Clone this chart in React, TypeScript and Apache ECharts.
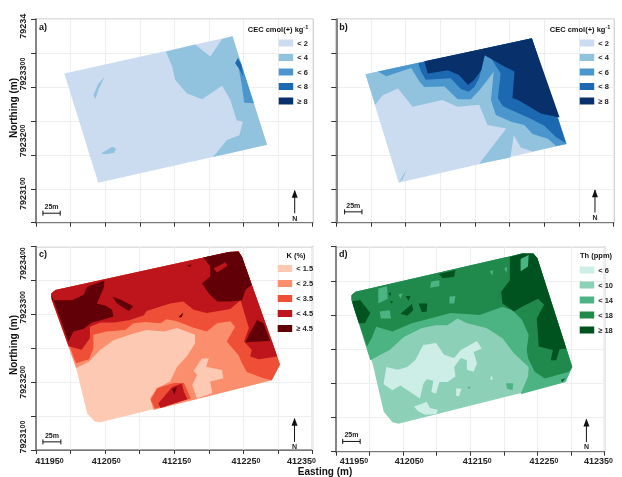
import React, { useEffect, useRef } from "react";
import * as echarts from "echarts";

// All rings are metres east of 411950 and metres north of 7923100.
const EAST0 = 411950;
const NORTH0 = 7923100;
type Ring = number[][];

const eastTicks = [411950, 412050, 412150, 412250, 412350];
const cecLevels = ["< 2", "< 4", "< 6", "< 8", "≥ 8"];
const kLevels = ["< 1.5", "< 2.5", "< 3.5", "< 4.5", "≥ 4.5"];
const thLevels = ["< 6", "< 10", "< 14", "< 18", "≥ 18"];
const blues = ["#cbdcf0", "#91c2de", "#4b97cd", "#1c68b1", "#08306b"];
const reds = ["#fdc9b2", "#fb8f6d", "#ef4f36", "#bd151b", "#620008"];
const greens = ["#cdeee6", "#8dd0b8", "#4cb482", "#1f8a4b", "#00521f"];

// Panel a, CEC
const aBase: Ring = [[41,220],[284,275],[334,115],[90,59]];
const aMid: Ring = [[188,252],[230,263],[252,245],[269,271],[284,275],[334,115],[256,97],[276,122],[294,129],[299,149],[290,151],[281,181],[269,202],[240,182],[218,191],[201,211],[197,230]];
const aSliver: Ring = [[99,215],[91,198],[86,183],[83,188],[90,205]];
const aBlob: Ring = [[94,102],[110,112],[116,109],[113,103],[101,101]];
const aHigh: Ring = [[292,243],[297,233],[315,176],[301,177],[297,206],[293,228],[288,235]];
const aHigher: Ring = [[292,243],[297,233],[300,215],[293,228],[288,235]];

// Panel b, CEC
const bBase: Ring = [[42,219],[282,272],[332,116],[90,59]];
const bL4: Ring = [[42,219],[282,272],[332,116],[283,105],[266,111],[256,129],[251,96],[206,87],[245,139],[218,144],[206,174],[175,171],[153,181],[110,171],[89,198],[67,188],[56,174]];
const bCorner: Ring = [[90,59],[102,80],[96,65]];
const bL6: Ring = [[60,223],[282,272],[332,116],[317,113],[305,124],[283,131],[271,144],[252,149],[230,159],[223,181],[227,223],[216,208],[206,195],[194,182],[175,182],[156,201],[127,200],[120,208],[108,228],[72,216]];
const bL8: Ring = [[118,235],[282,272],[331,117],[317,126],[300,143],[281,153],[257,164],[240,172],[233,184],[237,220],[223,243],[214,247],[206,213],[199,200],[191,193],[180,197],[165,213],[129,211],[122,223]];
const bTop: Ring = [[127,238],[282,272],[322,155],[295,161],[262,181],[254,184],[257,223],[243,230],[214,247],[209,225],[199,211],[190,203],[177,218],[161,225],[132,220]];

// Panel c, K
const cBase: Ring = [[22,231],[28,236],[279,292],[293,293],[298,285],[353,126],[341,103],[93,41],[85,42],[74,54],[58,121],[23,221]];
const cL25: Ring = [[58,121],[23,221],[22,231],[28,236],[279,292],[293,293],[298,285],[353,126],[341,103],[170,59],[165,76],[175,91],[194,101],[204,123],[218,138],[230,157],[230,170],[204,180],[185,175],[160,177],[141,172],[112,162],[93,148],[76,130]];
const cPale: Ring = [[240,135],[250,135],[246,123],[269,118],[271,106],[252,101],[255,84],[233,76],[226,96],[233,111],[228,117]];
const cL35: Ring = [[58,128],[23,221],[22,231],[28,236],[279,292],[293,293],[298,285],[353,126],[341,103],[329,106],[305,115],[298,128],[293,140],[276,160],[288,182],[281,190],[262,187],[247,175],[226,181],[204,190],[189,193],[180,187],[158,189],[141,187],[129,177],[102,175],[83,170],[83,150],[77,134]];
const cBlob35: Ring = [[166,74],[175,91],[199,99],[214,99],[224,76],[172,61]];
const cL45: Ring = [[47,153],[23,221],[22,231],[28,236],[279,292],[293,293],[298,285],[344,153],[349,138],[322,134],[310,138],[312,148],[301,160],[308,180],[300,207],[296,221],[281,208],[247,202],[228,207],[213,219],[194,216],[160,205],[156,199],[136,192],[114,188],[93,188],[78,182],[78,165],[66,148]];
const cBlob45: Ring = [[177,69],[197,93],[211,98],[214,86],[219,75],[180,62]];
const cDarkLeft: Ring = [[22,230],[23,221],[52,221],[69,229],[74,241],[99,250],[98,239],[88,216],[101,213],[110,207],[112,197],[95,192],[81,188],[69,179],[54,175],[47,160]];
const cStreak: Ring = [[111,226],[124,221],[141,212],[134,205],[117,216]];
const cDarkTop: Ring = [[242,284],[279,292],[293,293],[298,285],[312,244],[303,236],[298,221],[281,219],[262,219],[250,231],[240,246],[252,256],[252,271]];
const cRedIsle: Ring = [[257,268],[274,277],[277,272],[262,262]];
const cDarkRight: Ring = [[308,170],[320,192],[329,187],[339,161],[303,159]];
const cDot: Ring = [[218,272],[225,274],[223,270]];
const cFleck: Ring = [[206,196],[213,203],[211,196]];
const cSpot: Ring = [[197,90],[204,93],[200,82]];

// Panel d, Th
const dBase: Ring = [[23,229],[29,234],[277,290],[294,290],[300,283],[352,124],[342,102],[93,41],[84,43],[71,59],[55,127],[24,220]];
const dL14: Ring = [[51,134],[23,222],[23,229],[29,234],[277,290],[294,290],[300,283],[352,124],[342,102],[275,84],[286,110],[287,124],[265,144],[248,166],[224,181],[195,188],[181,195],[166,185],[149,185],[128,181],[101,168],[80,149]];
const dL18: Ring = [[46,154],[23,222],[23,229],[29,234],[277,290],[294,290],[300,283],[352,124],[347,117],[311,107],[296,117],[286,137],[284,149],[287,171],[277,193],[263,207],[248,212],[214,200],[171,203],[133,193],[113,188],[84,176],[60,183],[53,166]];
const dRight: Ring = [[259,285],[277,290],[294,290],[300,283],[343,151],[333,150],[328,134],[320,134],[323,149],[302,154],[299,195],[310,215],[301,224],[277,212],[265,205],[248,217],[246,234],[259,251]];
const dLeft: Ring = [[24,220],[36,222],[51,203],[43,188],[34,188],[26,212]];
const dTop: Ring = [[153,260],[178,266],[176,256],[159,254]];
const dSpot1: Ring = [[123,217],[136,217],[135,205],[128,204]];
const dSpot2: Ring = [[96,202],[113,216],[115,207],[106,199]];
const dSpot3: Ring = [[104,228],[111,228],[108,221]];
const dSpot4: Ring = [[78,232],[82,233],[81,228]];
const dSpot5: Ring = [[80,220],[85,220],[83,217]];
const dSpot6: Ring = [[335,105],[342,108],[337,102]];
const dIsle1: Ring = [[63,239],[76,242],[77,224],[63,217]];
const dIsle2: Ring = [[142,249],[154,251],[154,242],[140,240]];
const dIsle3: Ring = [[169,227],[178,228],[176,217],[169,217]];
const dIsle4: Ring = [[65,205],[80,207],[82,195],[67,195]];
const dIsle5: Ring = [[275,282],[287,288],[286,271],[275,264]];
const dIsle6: Ring = [[251,268],[255,271],[254,261]];
const dIsle7: Ring = [[229,264],[234,266],[233,258]];
const dIsle8: Ring = [[93,230],[99,232],[96,224]];
const dIsle9: Ring = [[253,100],[264,100],[263,90],[255,92]];
const dIsle10: Ring = [[195,95],[201,95],[198,92]];
const dPale: Ring = [[71,100],[75,124],[92,120],[106,124],[118,134],[130,156],[149,159],[161,142],[176,137],[186,149],[210,162],[217,151],[205,146],[210,129],[205,117],[195,120],[195,134],[186,137],[176,124],[178,110],[166,102],[154,102],[149,85],[142,87],[145,104],[135,106],[130,99],[125,78],[111,87],[96,97],[84,90],[72,98]];
const dPaleLow: Ring = [[116,66],[128,70],[135,73],[140,64],[152,61],[149,55],[133,54],[123,59]];
const dPaleDot1: Ring = [[231,112],[234,106],[230,105]];
const dPaleDot2: Ring = [[179,93],[187,92],[183,81],[179,82]];

const aLayers: [number, Ring][] = [[0,aBase],[1,aMid],[1,aSliver],[1,aBlob],[2,aHigh],[3,aHigher]];
const bLayers: [number, Ring][] = [[0,bBase],[1,bL4],[1,bCorner],[2,bL6],[3,bL8],[4,bTop]];
const cLayers: [number, Ring][] = [[0,cBase],[1,cL25],[0,cPale],[2,cL35],[2,cBlob35],[3,cL45],[3,cBlob45],[4,cDarkLeft],[4,cStreak],[4,cDarkTop],[3,cRedIsle],[4,cDarkRight],[4,cDot],[4,cFleck],[4,cSpot]];
const dLayers: [number, Ring][] = [[1,dBase],[2,dL14],[3,dL18],[2,dIsle1],[2,dIsle2],[2,dIsle3],[2,dIsle4],[2,dIsle6],[2,dIsle7],[2,dIsle8],[4,dRight],[4,dLeft],[4,dTop],[4,dSpot1],[4,dSpot2],[4,dSpot3],[4,dSpot4],[4,dSpot5],[4,dSpot6],[2,dIsle5],[2,dIsle9],[2,dIsle10],[0,dPale],[0,dPaleLow],[0,dPaleDot1],[0,dPaleDot2]];

// Metres: scale bar [start, end, height, label height], north arrow [east, base, tip, letter]
const aScale = [10, 35, 14, 24];
const bScale = [12, 37, 16, 25];
const cScale = [10, 36, 12, 22];
const dScale = [10, 36, 15, 25];
const aArrow = [374, 14, 47, 6];
const bArrow = [373, 15, 48, 8];
const cArrow = [374, 12, 46, 5];
const dArrow = [373, 14, 47, 7];

// Hand-placed tick labels of the source: shift in px along the label, per tick
const aShift: Record<number, number> = { 7923100: 29, 7923200: 14, 7923300: 13, 7923400: -7 };
const cShift: Record<number, number> = { 7923100: 13, 7923200: 0, 7923300: 7, 7923400: -17 };
const cEastShift: Record<number, number> = { 411950: 13.5, 412050: 1, 412150: 2.5, 412250: 2.5, 412350: -11 };
const dEastShift: Record<number, number> = { 411950: 18, 412050: 6, 412150: 7, 412250: 6.5, 412350: -6 };

const panels = [
  { key: "a)", grid: { left: 36, top: 19.3, width: 276.7, height: 203.4 }, layers: aLayers, levels: cecLevels, colors: blues, scale: aScale, arrow: aArrow, xShift: null, xMargin: 0, shift: aShift, legendTitle: "CEC cmol(+) kg{s|-1}", titleX: 278, titleY: 29, legendX: 278.7, legendY: 39, gap: 6.5 },
  { key: "b)", grid: { left: 336.3, top: 19.3, width: 277.4, height: 203.4 }, layers: bLayers, levels: cecLevels, colors: blues, scale: bScale, arrow: bArrow, xShift: null, xMargin: 0, shift: null, legendTitle: "CEC cmol(+) kg{s|-1}", titleX: 580, titleY: 29, legendX: 579.7, legendY: 39, gap: 6.5 },
  { key: "c)", grid: { left: 36, top: 246.7, width: 276.5, height: 203.3 }, layers: cLayers, levels: kLevels, colors: reds, scale: cScale, arrow: cArrow, xShift: cEastShift, xMargin: 6, shift: cShift, legendTitle: "K (%)", titleX: 296, titleY: 255, legendX: 277.7, legendY: 264.5, gap: 7 },
  { key: "d)", grid: { left: 336, top: 246.7, width: 276.7, height: 205 }, layers: dLayers, levels: thLevels, colors: greens, scale: dScale, arrow: dArrow, xShift: dEastShift, xMargin: 4.5, shift: null, legendTitle: "Th (ppm)", titleX: 596, titleY: 255, legendX: 579.7, legendY: 266, gap: 7 },
];

const FONT = "Liberation Sans";
const INK = "#222";

const gapName = (s: number) => `g${Math.round(Math.abs(s) * 2)}`;
const gapStyles = (shifts: Record<number, number>) =>
  Object.fromEntries(Object.values(shifts).map((s) => [gapName(s), { width: Math.round(Math.abs(s) * 2), fontSize: 7 }]));
const withGap = (s: number, body: string) => (s >= 0 ? `{${gapName(s)}|}${body}` : `${body}{${gapName(s)}|}`);

function buildOption() {
  const grids: any[] = [], xAxes: any[] = [], yAxes: any[] = [], series: any[] = [], legends: any[] = [], graphics: any[] = [];
  panels.forEach((p, i) => {
    grids.push({ ...p.grid, show: true, borderColor: "#858585", borderWidth: 1.3, backgroundColor: "#fff" });
    const xShift = p.xShift;
    xAxes.push({
      type: "value", gridIndex: i, min: eastTicks[0], max: eastTicks[eastTicks.length - 1], interval: 50,
      axisLine: { lineStyle: { color: "#777", width: 1 } },
      axisTick: { length: 4, lineStyle: { color: "#333", width: 1 } },
      splitLine: { show: true, lineStyle: { color: "#eeeeee", width: 1 } },
      axisLabel: xShift ? {
        margin: p.xMargin, color: INK, hideOverlap: false, showMinLabel: true, showMaxLabel: true,
        formatter: (v: number) => (v in xShift ? withGap(xShift[v], `{a|${Math.floor(v / 10)}}{b|${v % 10}}`) : ""),
        rich: {
          a: { fontFamily: FONT, fontWeight: "bold", fontSize: 9, color: INK },
          b: { fontFamily: FONT, fontWeight: "bold", fontSize: 7, color: INK },
          ...gapStyles(xShift),
        },
      } : { show: false },
    });
    const shift = p.shift;
    yAxes.push({
      type: "value", gridIndex: i, min: NORTH0, max: NORTH0 + 300, interval: 50,
      axisLine: { show: true, lineStyle: { color: "#858585", width: 2 } },
      axisTick: { length: 5, lineStyle: { color: "#333", width: 1 } },
      splitLine: { show: true, lineStyle: { color: "#eeeeee", width: 1 } },
      axisLabel: shift ? {
        rotate: 90, margin: 9, color: INK, hideOverlap: false, showMinLabel: true, showMaxLabel: true,
        formatter: (v: number) => {
          if (!(v in shift)) return "";
          const body = v === NORTH0 + 300 && i === 0 ? `{a|79234}` : `{a|${Math.floor(v / 100)}}{b|${String(v % 100).padStart(2, "0")}}`;
          return withGap(shift[v], body);
        },
        rich: {
          a: { fontFamily: FONT, fontWeight: "bold", fontSize: 9, color: INK },
          b: { fontFamily: FONT, fontWeight: "bold", fontSize: 7, color: INK },
          ...gapStyles(shift),
        },
      } : { show: false },
    });

    p.layers.forEach(([lv, ring]) => {
      series.push({
        type: "custom", name: p.levels[lv], xAxisIndex: i, yAxisIndex: i, coordinateSystem: "cartesian2d",
        silent: true, clip: true, z: 2,
        itemStyle: { color: p.colors[lv] },
        encode: { x: 0, y: 1 },
        data: ring.map(([e, n]) => [EAST0 + e, NORTH0 + n]),
        renderItem: (params: any, api: any) => {
          if (params.dataIndex !== 0) return null;
          const points = ring.map(([e, n]) => api.coord([EAST0 + e, NORTH0 + n]));
          return { type: "polygon", shape: { points }, style: { fill: p.colors[lv] } };
        },
      });
    });

    // Scale bar and north arrow, placed in map metres.
    const [s0, s1, sy, sl] = p.scale;
    const [ax, a0, a1, aN] = p.arrow;
    series.push({
      type: "custom", xAxisIndex: i, yAxisIndex: i, coordinateSystem: "cartesian2d", silent: true, clip: false, z: 4,
      encode: { x: 0, y: 1 },
      data: [[EAST0 + s0, NORTH0 + sy]],
      renderItem: (_: any, api: any) => {
        const c = (e: number, n: number) => api.coord([EAST0 + e, NORTH0 + n]);
        const l = c(s0, sy), r = c(s1, sy), lab = c((s0 + s1) / 2, sl);
        const b = c(ax, a0), t = c(ax, a1), nl = c(ax, aN);
        const stroke = { stroke: "#111", lineWidth: 1 };
        return {
          type: "group",
          children: [
            { type: "line", shape: { x1: l[0], y1: l[1], x2: r[0], y2: r[1] }, style: stroke },
            { type: "line", shape: { x1: l[0], y1: l[1] - 2.5, x2: l[0], y2: l[1] + 2.5 }, style: stroke },
            { type: "line", shape: { x1: r[0], y1: r[1] - 2.5, x2: r[0], y2: r[1] + 2.5 }, style: stroke },
            { type: "text", style: { text: "25m", x: lab[0], y: lab[1], align: "center", verticalAlign: "middle", font: `bold 7px "${FONT}"`, fill: INK } },
            { type: "line", shape: { x1: b[0], y1: b[1], x2: t[0], y2: t[1] }, style: stroke },
            { type: "polygon", shape: { points: [[t[0], t[1] - 1], [t[0] - 3, t[1] + 7], [t[0] + 3, t[1] + 7]] }, style: { fill: "#111" } },
            { type: "text", style: { text: "N", x: nl[0], y: nl[1], align: "center", verticalAlign: "middle", font: `bold 7px "${FONT}"`, fill: INK } },
          ],
        };
      },
    });

    legends.push({
      show: true, orient: "vertical", left: p.legendX, top: p.legendY, padding: 0, itemGap: p.gap, itemWidth: 14.5, itemHeight: 7,
      selectedMode: false, icon: "rect",
      textStyle: { fontFamily: FONT, fontWeight: "bold", fontSize: 7.5, color: INK, padding: [0, 0, 0, -1] },
      data: p.levels.map((name, k) => ({ name, itemStyle: { color: p.colors[k] }, icon: "rect" })),
    });

    graphics.push({
      type: "text", left: p.grid.left + 3, top: p.grid.top + 3, z: 10,
      style: { text: p.key, font: `bold 9px "${FONT}"`, fill: "#111" },
    });
    graphics.push({
      type: "text", x: p.titleX, y: p.titleY, z: 10,
      style: {
        text: p.legendTitle, align: "center", verticalAlign: "middle", font: `bold 7.5px "${FONT}"`, fill: "#111",
        rich: { s: { font: `bold 5.5px "${FONT}"`, fill: "#111", verticalAlign: "top", padding: [0, 0, 5, 0] } },
      },
    });
  });

  graphics.push({ type: "text", x: 13, y: 108, rotation: Math.PI / 2, z: 10, style: { text: "Northing (m)", align: "center", verticalAlign: "middle", font: `bold 10px "${FONT}"`, fill: "#111" } });
  graphics.push({ type: "text", x: 13, y: 345, rotation: Math.PI / 2, z: 10, style: { text: "Northing (m)", align: "center", verticalAlign: "middle", font: `bold 10px "${FONT}"`, fill: "#111" } });
  graphics.push({ type: "text", x: 325, y: 471.8, z: 10, style: { text: "Easting (m)", align: "center", verticalAlign: "middle", font: `bold 10px "${FONT}"`, fill: "#111" } });

  return { animation: false, backgroundColor: "#fff", grid: grids, xAxis: xAxes, yAxis: yAxes, series, legend: legends, graphic: graphics, tooltip: { show: false } };
}

export default function App() {
  const ref = useRef<HTMLDivElement>(null);
  useEffect(() => {
    const chart = echarts.init(ref.current!, undefined, { renderer: "svg" });
    chart.setOption(buildOption());
    return () => chart.dispose();
  }, []);
  return (
    <div style={{ position: "fixed", left: 0, top: 0, width: 622, height: 477, overflow: "hidden", filter: "blur(0.45px)" }}>
      <div ref={ref} style={{ width: 622, height: 477 }} />
    </div>
  );
}
